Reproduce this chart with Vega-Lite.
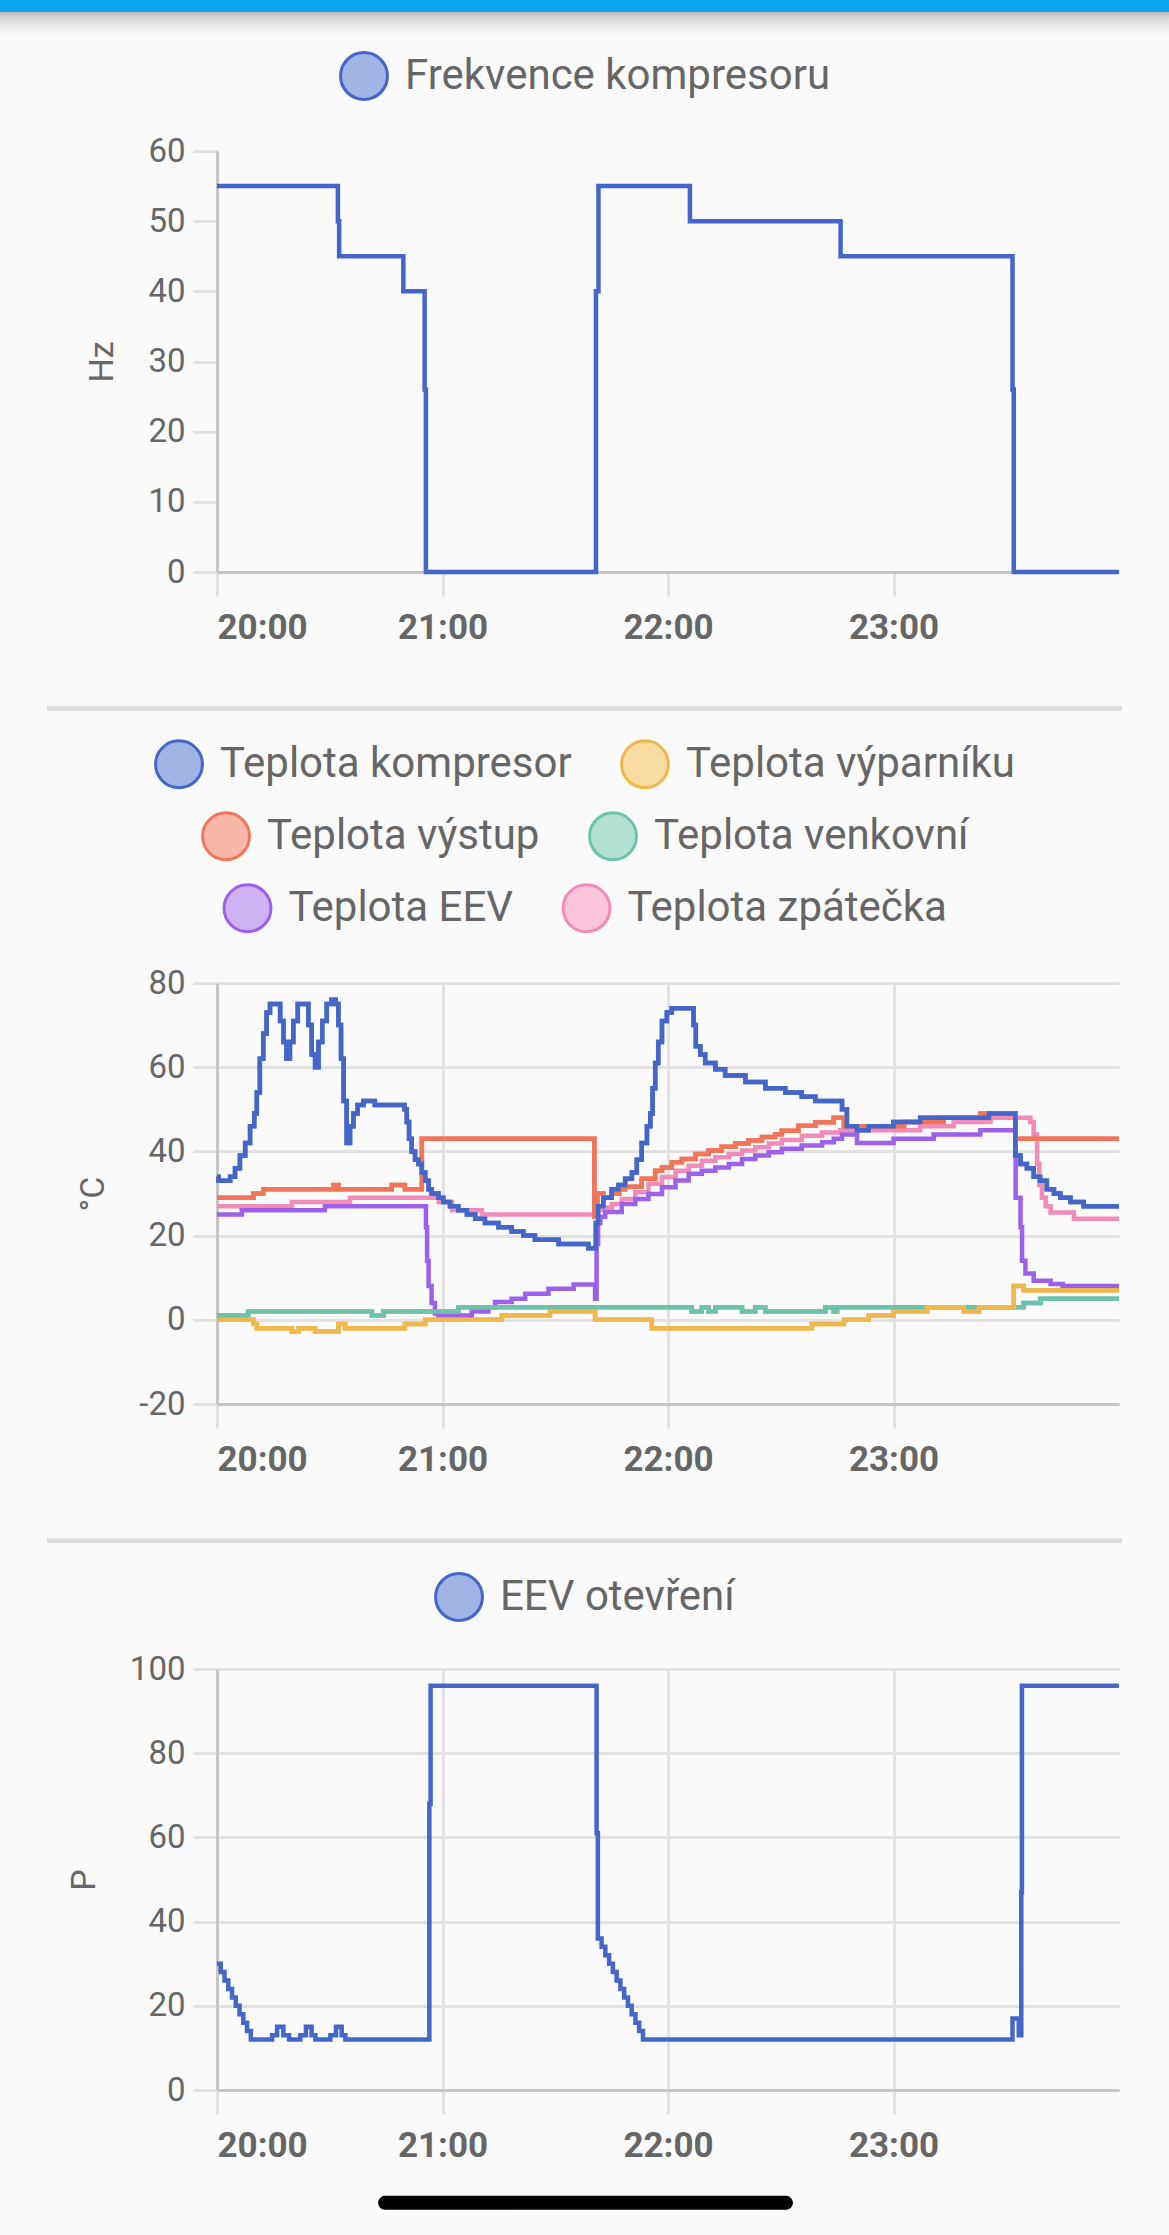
{
  "$schema": "https://vega.github.io/schema/vega-lite/v6.json",
  "background": "#fafafa",
  "padding": {"left": 0, "top": 0, "right": 0, "bottom": 25},
  "spacing": 28,
  "resolve": {"scale": {"color": "independent"}},
  "datasets": {
    "hz": [
      {"t":"2024-01-01T20:00:00","v":55},{"t":"2024-01-01T20:32:10","v":50},{"t":"2024-01-01T20:32:30","v":45},{"t":"2024-01-01T20:49:35","v":40},{"t":"2024-01-01T20:55:15","v":26},{"t":"2024-01-01T20:55:35","v":0},
      {"t":"2024-01-01T21:40:50","v":40},{"t":"2024-01-01T21:41:30","v":55},{"t":"2024-01-01T22:05:50","v":50},{"t":"2024-01-01T22:45:55","v":45},{"t":"2024-01-01T23:31:40","v":26},{"t":"2024-01-01T23:32:00","v":0},{"t":"2024-01-01T23:59:59","v":0}
    ],
    "eev": [
      {"t":"2024-01-01T20:00:00","v":30},{"t":"2024-01-01T20:01:00","v":28},{"t":"2024-01-01T20:02:00","v":26},{"t":"2024-01-01T20:03:00","v":24},{"t":"2024-01-01T20:04:00","v":22},{"t":"2024-01-01T20:05:00","v":20},{"t":"2024-01-01T20:06:00","v":18},{"t":"2024-01-01T20:07:00","v":16},{"t":"2024-01-01T20:08:00","v":14},{"t":"2024-01-01T20:09:00","v":12},
      {"t":"2024-01-01T20:14:40","v":13},{"t":"2024-01-01T20:16:00","v":15},{"t":"2024-01-01T20:17:40","v":13},{"t":"2024-01-01T20:19:10","v":12},
      {"t":"2024-01-01T20:22:10","v":13},{"t":"2024-01-01T20:23:40","v":15},{"t":"2024-01-01T20:25:10","v":13},{"t":"2024-01-01T20:26:10","v":12},
      {"t":"2024-01-01T20:30:10","v":13},{"t":"2024-01-01T20:31:40","v":15},{"t":"2024-01-01T20:33:10","v":13},{"t":"2024-01-01T20:34:10","v":12},
      {"t":"2024-01-01T20:56:30","v":68},{"t":"2024-01-01T20:56:50","v":96},
      {"t":"2024-01-01T21:41:00","v":61},{"t":"2024-01-01T21:41:20","v":36},{"t":"2024-01-01T21:42:20","v":34},{"t":"2024-01-01T21:43:20","v":32},{"t":"2024-01-01T21:44:20","v":30},{"t":"2024-01-01T21:45:20","v":28},{"t":"2024-01-01T21:46:20","v":26},{"t":"2024-01-01T21:47:20","v":24},{"t":"2024-01-01T21:48:20","v":22},{"t":"2024-01-01T21:49:20","v":20},{"t":"2024-01-01T21:50:20","v":18},{"t":"2024-01-01T21:51:20","v":16},{"t":"2024-01-01T21:52:20","v":14},{"t":"2024-01-01T21:53:20","v":12},
      {"t":"2024-01-01T23:31:40","v":17},{"t":"2024-01-01T23:33:20","v":13},{"t":"2024-01-01T23:34:00","v":47},{"t":"2024-01-01T23:34:10","v":96},{"t":"2024-01-01T23:59:59","v":96}
    ],
    "k": [
      {"t":"2024-01-01T20:00:00","v":34},{"t":"2024-01-01T20:00:24","v":33},{"t":"2024-01-01T20:03:30","v":34},{"t":"2024-01-01T20:04:48","v":36},{"t":"2024-01-01T20:06:06","v":39},{"t":"2024-01-01T20:07:30","v":42},{"t":"2024-01-01T20:08:48","v":46},{"t":"2024-01-01T20:09:54","v":49},{"t":"2024-01-01T20:10:36","v":54},{"t":"2024-01-01T20:11:24","v":62},{"t":"2024-01-01T20:12:18","v":68},{"t":"2024-01-01T20:13:12","v":73},{"t":"2024-01-01T20:14:06","v":75},
      {"t":"2024-01-01T20:16:48","v":71},{"t":"2024-01-01T20:17:42","v":66},{"t":"2024-01-01T20:18:30","v":62},{"t":"2024-01-01T20:19:24","v":66},{"t":"2024-01-01T20:20:18","v":71},{"t":"2024-01-01T20:21:30","v":75},
      {"t":"2024-01-01T20:24:18","v":70},{"t":"2024-01-01T20:25:12","v":63},{"t":"2024-01-01T20:26:06","v":60},{"t":"2024-01-01T20:27:00","v":66},{"t":"2024-01-01T20:28:00","v":71},{"t":"2024-01-01T20:29:12","v":75},{"t":"2024-01-01T20:30:30","v":76},{"t":"2024-01-01T20:31:36","v":75},
      {"t":"2024-01-01T20:32:18","v":70},{"t":"2024-01-01T20:33:00","v":62},{"t":"2024-01-01T20:33:42","v":52},{"t":"2024-01-01T20:34:30","v":42},{"t":"2024-01-01T20:35:24","v":46},{"t":"2024-01-01T20:36:18","v":49},{"t":"2024-01-01T20:37:24","v":51},{"t":"2024-01-01T20:39:00","v":52},{"t":"2024-01-01T20:42:00","v":51},
      {"t":"2024-01-01T20:49:54","v":50},{"t":"2024-01-01T20:50:30","v":47},{"t":"2024-01-01T20:51:06","v":43},{"t":"2024-01-01T20:51:48","v":40},{"t":"2024-01-01T20:52:42","v":38},{"t":"2024-01-01T20:53:36","v":37},{"t":"2024-01-01T20:54:30","v":35},{"t":"2024-01-01T20:55:24","v":33},{"t":"2024-01-01T20:56:18","v":31},{"t":"2024-01-01T20:57:06","v":30},{"t":"2024-01-01T20:58:54","v":29},
      {"t":"2024-01-01T21:00:12","v":28},{"t":"2024-01-01T21:02:00","v":27},{"t":"2024-01-01T21:04:12","v":26},{"t":"2024-01-01T21:06:30","v":25},{"t":"2024-01-01T21:08:42","v":24},{"t":"2024-01-01T21:11:18","v":23},{"t":"2024-01-01T21:14:54","v":22},{"t":"2024-01-01T21:18:24","v":21},{"t":"2024-01-01T21:21:30","v":20},{"t":"2024-01-01T21:24:36","v":19},{"t":"2024-01-01T21:30:54","v":18},{"t":"2024-01-01T21:38:48","v":17},
      {"t":"2024-01-01T21:40:48","v":23},{"t":"2024-01-01T21:41:24","v":27},{"t":"2024-01-01T21:42:48","v":29},{"t":"2024-01-01T21:45:00","v":31},{"t":"2024-01-01T21:46:48","v":32},{"t":"2024-01-01T21:48:36","v":33.5},{"t":"2024-01-01T21:50:24","v":35},{"t":"2024-01-01T21:51:42","v":38},{"t":"2024-01-01T21:53:00","v":42},{"t":"2024-01-01T21:54:24","v":46},{"t":"2024-01-01T21:55:18","v":49},{"t":"2024-01-01T21:55:54","v":55},{"t":"2024-01-01T21:56:36","v":61},{"t":"2024-01-01T21:57:24","v":66},{"t":"2024-01-01T21:58:24","v":71},{"t":"2024-01-01T21:59:42","v":73},{"t":"2024-01-01T22:01:00","v":74},
      {"t":"2024-01-01T22:06:48","v":70},{"t":"2024-01-01T22:07:24","v":65},{"t":"2024-01-01T22:08:36","v":63},{"t":"2024-01-01T22:09:54","v":61},{"t":"2024-01-01T22:12:36","v":59.5},{"t":"2024-01-01T22:15:12","v":58},{"t":"2024-01-01T22:20:36","v":56.5},{"t":"2024-01-01T22:25:54","v":55},{"t":"2024-01-01T22:31:12","v":54},{"t":"2024-01-01T22:35:36","v":53},{"t":"2024-01-01T22:39:12","v":52},
      {"t":"2024-01-01T22:46:18","v":50},{"t":"2024-01-01T22:47:36","v":46},{"t":"2024-01-01T22:50:18","v":45},{"t":"2024-01-01T22:53:24","v":46},{"t":"2024-01-01T23:00:00","v":47},{"t":"2024-01-01T23:07:06","v":48},{"t":"2024-01-01T23:25:24","v":49},
      {"t":"2024-01-01T23:32:24","v":39},{"t":"2024-01-01T23:33:48","v":37},{"t":"2024-01-01T23:35:30","v":36},{"t":"2024-01-01T23:37:18","v":34},{"t":"2024-01-01T23:39:00","v":33},{"t":"2024-01-01T23:40:48","v":31},{"t":"2024-01-01T23:42:42","v":30},{"t":"2024-01-01T23:44:24","v":29},{"t":"2024-01-01T23:47:06","v":28},{"t":"2024-01-01T23:50:36","v":27},{"t":"2024-01-01T23:59:59","v":27}
    ],
    "vyp": [
      {"t":"2024-01-01T20:00:00","v":0},{"t":"2024-01-01T20:09:42","v":-1},{"t":"2024-01-01T20:10:36","v":-2},{"t":"2024-01-01T20:19:54","v":-2.8},{"t":"2024-01-01T20:21:42","v":-2},{"t":"2024-01-01T20:26:06","v":-2.8},{"t":"2024-01-01T20:32:18","v":-1},{"t":"2024-01-01T20:34:06","v":-2},{"t":"2024-01-01T20:50:00","v":-1},{"t":"2024-01-01T20:55:24","v":0},
      {"t":"2024-01-01T21:15:48","v":1},{"t":"2024-01-01T21:28:36","v":2},{"t":"2024-01-01T21:40:36","v":0},{"t":"2024-01-01T21:55:42","v":-2},{"t":"2024-01-01T22:38:18","v":-1},{"t":"2024-01-01T22:46:48","v":0},{"t":"2024-01-01T22:53:24","v":1},{"t":"2024-01-01T23:00:00","v":2},{"t":"2024-01-01T23:08:54","v":3},{"t":"2024-01-01T23:18:42","v":2},{"t":"2024-01-01T23:22:42","v":3},{"t":"2024-01-01T23:32:00","v":8},{"t":"2024-01-01T23:34:36","v":7},{"t":"2024-01-01T23:59:59","v":7}
    ],
    "vys": [
      {"t":"2024-01-01T20:00:00","v":29},{"t":"2024-01-01T20:09:42","v":30},{"t":"2024-01-01T20:12:18","v":31},{"t":"2024-01-01T20:31:00","v":32},{"t":"2024-01-01T20:32:18","v":31},{"t":"2024-01-01T20:46:30","v":32},{"t":"2024-01-01T20:50:00","v":31},{"t":"2024-01-01T20:54:30","v":43},
      {"t":"2024-01-01T21:40:24","v":24.5},{"t":"2024-01-01T21:41:12","v":30},{"t":"2024-01-01T21:42:48","v":29},{"t":"2024-01-01T21:45:00","v":30},{"t":"2024-01-01T21:47:00","v":31},{"t":"2024-01-01T21:48:36","v":31.6},{"t":"2024-01-01T21:53:00","v":33.5},{"t":"2024-01-01T21:56:36","v":35.4},{"t":"2024-01-01T21:58:24","v":36.2},{"t":"2024-01-01T22:01:00","v":37.4},{"t":"2024-01-01T22:03:42","v":38.2},{"t":"2024-01-01T22:07:18","v":39.4},{"t":"2024-01-01T22:10:48","v":40.2},{"t":"2024-01-01T22:14:18","v":41.1},{"t":"2024-01-01T22:17:54","v":41.9},{"t":"2024-01-01T22:21:24","v":42.6},{"t":"2024-01-01T22:25:00","v":43.4},{"t":"2024-01-01T22:28:30","v":44.1},{"t":"2024-01-01T22:30:18","v":44.9},{"t":"2024-01-01T22:34:42","v":46.1},{"t":"2024-01-01T22:39:12","v":46.9},{"t":"2024-01-01T22:44:06","v":48},{"t":"2024-01-01T22:46:48","v":46},
      {"t":"2024-01-01T23:02:48","v":47},{"t":"2024-01-01T23:13:18","v":48},{"t":"2024-01-01T23:23:06","v":49},{"t":"2024-01-01T23:32:30","v":43},{"t":"2024-01-01T23:59:59","v":43}
    ],
    "ven": [
      {"t":"2024-01-01T20:00:00","v":1},{"t":"2024-01-01T20:08:18","v":2},{"t":"2024-01-01T20:41:12","v":1},{"t":"2024-01-01T20:44:18","v":2},{"t":"2024-01-01T21:04:12","v":3},{"t":"2024-01-01T22:06:18","v":2},{"t":"2024-01-01T22:09:00","v":3},{"t":"2024-01-01T22:10:48","v":2},{"t":"2024-01-01T22:12:36","v":3},{"t":"2024-01-01T22:19:42","v":2},{"t":"2024-01-01T22:23:12","v":3},{"t":"2024-01-01T22:25:54","v":2},{"t":"2024-01-01T22:41:54","v":3},{"t":"2024-01-01T22:44:06","v":2},{"t":"2024-01-01T22:45:00","v":3},{"t":"2024-01-01T23:34:36","v":4},{"t":"2024-01-01T23:39:06","v":5},{"t":"2024-01-01T23:59:59","v":5}
    ],
    "eevt": [
      {"t":"2024-01-01T20:00:00","v":25},{"t":"2024-01-01T20:06:36","v":26},{"t":"2024-01-01T20:28:42","v":27},{"t":"2024-01-01T20:55:36","v":22},{"t":"2024-01-01T20:55:54","v":14},{"t":"2024-01-01T20:56:18","v":8},{"t":"2024-01-01T20:57:06","v":4},{"t":"2024-01-01T20:58:00","v":1.5},{"t":"2024-01-01T20:58:54","v":1},
      {"t":"2024-01-01T21:07:48","v":2},{"t":"2024-01-01T21:12:12","v":3},{"t":"2024-01-01T21:14:00","v":4.2},{"t":"2024-01-01T21:18:24","v":5},{"t":"2024-01-01T21:22:00","v":6.2},{"t":"2024-01-01T21:28:12","v":7.4},{"t":"2024-01-01T21:34:54","v":8.4},{"t":"2024-01-01T21:40:36","v":5},
      {"t":"2024-01-01T21:41:00","v":18},{"t":"2024-01-01T21:41:24","v":23},{"t":"2024-01-01T21:42:00","v":24.5},{"t":"2024-01-01T21:43:18","v":25.6},{"t":"2024-01-01T21:47:42","v":27.5},{"t":"2024-01-01T21:51:18","v":28.7},{"t":"2024-01-01T21:54:48","v":29.9},{"t":"2024-01-01T21:58:24","v":31.5},{"t":"2024-01-01T22:02:00","v":33.1},{"t":"2024-01-01T22:05:30","v":34.7},{"t":"2024-01-01T22:09:00","v":35.4},{"t":"2024-01-01T22:12:36","v":36.2},{"t":"2024-01-01T22:16:12","v":37},{"t":"2024-01-01T22:19:42","v":38.2},{"t":"2024-01-01T22:23:12","v":39},{"t":"2024-01-01T22:26:48","v":39.8},{"t":"2024-01-01T22:30:18","v":40.6},{"t":"2024-01-01T22:35:36","v":41.4},{"t":"2024-01-01T22:41:00","v":42.2},{"t":"2024-01-01T22:44:06","v":43},{"t":"2024-01-01T22:46:18","v":44},{"t":"2024-01-01T22:50:18","v":42},
      {"t":"2024-01-01T23:00:00","v":43},{"t":"2024-01-01T23:10:42","v":44},{"t":"2024-01-01T23:23:06","v":45},{"t":"2024-01-01T23:32:30","v":29},{"t":"2024-01-01T23:33:48","v":22},{"t":"2024-01-01T23:34:12","v":14},{"t":"2024-01-01T23:35:06","v":11},{"t":"2024-01-01T23:37:18","v":9.3},{"t":"2024-01-01T23:41:48","v":8.5},{"t":"2024-01-01T23:45:00","v":8},{"t":"2024-01-01T23:59:59","v":8}
    ],
    "zp": [
      {"t":"2024-01-01T20:00:00","v":27},{"t":"2024-01-01T20:19:54","v":28},{"t":"2024-01-01T20:35:24","v":29},{"t":"2024-01-01T20:59:00","v":28},{"t":"2024-01-01T21:02:30","v":26},{"t":"2024-01-01T21:10:30","v":25},
      {"t":"2024-01-01T21:41:00","v":26},{"t":"2024-01-01T21:43:18","v":26.7},{"t":"2024-01-01T21:45:06","v":27.5},{"t":"2024-01-01T21:47:42","v":28.7},{"t":"2024-01-01T21:51:18","v":30.3},{"t":"2024-01-01T21:54:48","v":32.3},{"t":"2024-01-01T21:58:24","v":33.9},{"t":"2024-01-01T22:02:00","v":35.4},{"t":"2024-01-01T22:05:30","v":36.6},{"t":"2024-01-01T22:09:00","v":37.8},{"t":"2024-01-01T22:12:36","v":38.6},{"t":"2024-01-01T22:16:12","v":39.4},{"t":"2024-01-01T22:19:42","v":40.2},{"t":"2024-01-01T22:23:12","v":41},{"t":"2024-01-01T22:26:48","v":41.9},{"t":"2024-01-01T22:30:18","v":42.7},{"t":"2024-01-01T22:35:36","v":43.7},{"t":"2024-01-01T22:41:00","v":44.5},{"t":"2024-01-01T22:45:48","v":45},
      {"t":"2024-01-01T23:07:06","v":46},{"t":"2024-01-01T23:16:00","v":47},{"t":"2024-01-01T23:25:48","v":48},{"t":"2024-01-01T23:36:24","v":47},{"t":"2024-01-01T23:37:18","v":44},{"t":"2024-01-01T23:38:12","v":37},{"t":"2024-01-01T23:38:48","v":32},{"t":"2024-01-01T23:39:30","v":29},{"t":"2024-01-01T23:40:30","v":27},{"t":"2024-01-01T23:41:48","v":25.5},{"t":"2024-01-01T23:48:00","v":24},{"t":"2024-01-01T23:59:59","v":24}
    ]
  },
  "vconcat": [
    {
      "width": 902, "height": 421,
      "layer": [
        {"data": {"values": [{}]}, "mark": {"type": "rect", "fill": {"gradient": "linear", "x1": 0, "y1": 0, "x2": 0, "y2": 1, "stops": [{"offset": 0, "color": "#bdbdbd"}, {"offset": 0.35, "color": "#dcdcdc"}, {"offset": 1, "color": "#fafafa"}]}, "strokeWidth": 0},
         "encoding": {"x": {"datum": {"year":2024,"month":1,"date":1,"hours":19,"minutes":2,"seconds":16}, "type": "temporal"}, "x2": {"datum": {"year":2024,"month":1,"date":2,"hours":0,"minutes":13,"seconds":18}}, "y": {"datum": 79.81, "type": "quantitative"}, "y2": {"datum": 76.675}}},
        {"data": {"values": [{}]}, "mark": {"type": "rect", "color": "#0aa6ef", "strokeWidth": 0},
         "encoding": {"x": {"datum": {"year":2024,"month":1,"date":1,"hours":19,"minutes":2,"seconds":16}, "type": "temporal"}, "x2": {"datum": {"year":2024,"month":1,"date":2,"hours":0,"minutes":13,"seconds":18}}, "y": {"datum": 81.52, "type": "quantitative"}, "y2": {"datum": 79.81}}},
        {"data": {"name": "hz"}, "mark": {"type": "line", "interpolate": "step-after", "strokeWidth": 4.5},
         "encoding": {
           "x": {"field": "t", "type": "temporal", "scale": {"domain": [{"year":2024,"month":1,"date":1,"hours":20},{"year":2024,"month":1,"date":2,"hours":0}]}, "axis": {"values": [{"year":2024,"month":1,"date":1,"hours":20},{"year":2024,"month":1,"date":1,"hours":21},{"year":2024,"month":1,"date":1,"hours":22},{"year":2024,"month":1,"date":1,"hours":23}], "format": "%H:%M", "title": null}},
           "y": {"field": "v", "type": "quantitative", "scale": {"domain": [0, 60]}, "axis": {"values": [0,10,20,30,40,50,60], "title": "Hz"}},
           "color": {"datum": "Frekvence kompresoru", "scale": {"range": ["#4466c8"]}, "legend": {"title": " ", "offset": 45, "symbolType": "circle", "encode": {"symbols": {"update": {"fill": {"value": "#a0b3e5"}, "strokeWidth": {"value": 3}}}}}}}},
        {"data": {"values": [{}]}, "mark": {"type": "rule", "color": "#dcdcdc", "strokeWidth": 4.5},
         "encoding": {"x": {"datum": {"year":2024,"month":1,"date":1,"hours":19,"minutes":14,"seconds":46}, "type": "temporal"}, "x2": {"datum": {"year":2024,"month":1,"date":2,"hours":0,"minutes":0,"seconds":48}}, "y": {"datum": -19.45, "type": "quantitative"}}}
      ]
    },
    {
      "width": 902, "height": 421,
      "layer": [
        {
          "encoding": {
            "x": {"field": "t", "type": "temporal", "scale": {"domain": [{"year":2024,"month":1,"date":1,"hours":20},{"year":2024,"month":1,"date":2,"hours":0}]}, "axis": {"values": [{"year":2024,"month":1,"date":1,"hours":20},{"year":2024,"month":1,"date":1,"hours":21},{"year":2024,"month":1,"date":1,"hours":22},{"year":2024,"month":1,"date":1,"hours":23}], "format": "%H:%M", "title": null}},
            "y": {"field": "v", "type": "quantitative", "scale": {"domain": [-20, 80]}, "axis": {"values": [-20,0,20,40,60,80], "labelExpr": "'' + datum.value", "title": "°C"}}
          },
          "layer": [
            {"layer": [
              {"data": {"name": "vyp"}, "mark": {"type": "line", "interpolate": "step-after", "strokeWidth": 4.5},
               "encoding": {"color": {"datum": "Teplota výparníku", "scale": {"domain": ["Teplota kompresor", "Teplota výparníku"], "range": ["#4466c8", "#f0b84c"]}, "legend": {"title": " ", "offset": 45, "symbolType": "circle", "encode": {"symbols": {"update": {"fill": {"signal": "datum.value == 'Teplota výparníku' ? '#f7dba1' : '#a0b3e5'"}, "strokeWidth": {"value": 3}}}}}}}},
              {"data": {"name": "k"}, "mark": {"type": "line", "interpolate": "step-after", "strokeWidth": 4.5},
               "encoding": {"color": {"datum": "Teplota kompresor", "scale": {"domain": ["Teplota kompresor", "Teplota výparníku"], "range": ["#4466c8", "#f0b84c"]}, "legend": {"title": " ", "offset": 45, "symbolType": "circle", "encode": {"symbols": {"update": {"fill": {"signal": "datum.value == 'Teplota výparníku' ? '#f7dba1' : '#a0b3e5'"}, "strokeWidth": {"value": 3}}}}}}}}
            ]},
            {"layer": [
              {"data": {"name": "ven"}, "mark": {"type": "line", "interpolate": "step-after", "strokeWidth": 4.5},
               "encoding": {"color": {"datum": "Teplota venkovní", "scale": {"domain": ["Teplota výstup", "Teplota venkovní"], "range": ["#f07559", "#6cc3aa"]}, "legend": {"title": " ", "offset": 45, "symbolType": "circle", "encode": {"symbols": {"update": {"fill": {"signal": "datum.value == 'Teplota venkovní' ? '#b4e0d3' : '#f9b7a7'"}, "strokeWidth": {"value": 3}}}}}}}},
              {"data": {"name": "vys"}, "mark": {"type": "line", "interpolate": "step-after", "strokeWidth": 4.5},
               "encoding": {"color": {"datum": "Teplota výstup", "scale": {"domain": ["Teplota výstup", "Teplota venkovní"], "range": ["#f07559", "#6cc3aa"]}, "legend": {"title": " ", "offset": 45, "symbolType": "circle", "encode": {"symbols": {"update": {"fill": {"signal": "datum.value == 'Teplota venkovní' ? '#b4e0d3' : '#f9b7a7'"}, "strokeWidth": {"value": 3}}}}}}}}
            ]},
            {"layer": [
              {"data": {"name": "zp"}, "mark": {"type": "line", "interpolate": "step-after", "strokeWidth": 4.5},
               "encoding": {"color": {"datum": "Teplota zpátečka", "scale": {"domain": ["Teplota EEV", "Teplota zpátečka"], "range": ["#9d60e8", "#f38bb8"]}, "legend": {"title": " ", "offset": 45, "symbolType": "circle", "encode": {"symbols": {"update": {"fill": {"signal": "datum.value == 'Teplota zpátečka' ? '#fbc4db' : '#cfb1f4'"}, "strokeWidth": {"value": 3}}}}}}}},
              {"data": {"name": "eevt"}, "mark": {"type": "line", "interpolate": "step-after", "strokeWidth": 4.5},
               "encoding": {"color": {"datum": "Teplota EEV", "scale": {"domain": ["Teplota EEV", "Teplota zpátečka"], "range": ["#9d60e8", "#f38bb8"]}, "legend": {"title": " ", "offset": 45, "symbolType": "circle", "encode": {"symbols": {"update": {"fill": {"signal": "datum.value == 'Teplota zpátečka' ? '#fbc4db' : '#cfb1f4'"}, "strokeWidth": {"value": 3}}}}}}}}
            ]},
            {"data": {"name": "ven"}, "mark": {"type": "line", "interpolate": "step-after", "strokeWidth": 4.5, "color": "#6cc3aa"}, "encoding": {}},
            {"data": {"name": "vys"}, "mark": {"type": "line", "interpolate": "step-after", "strokeWidth": 4.5, "color": "#f07559"}, "encoding": {}},
            {"data": {"name": "vyp"}, "mark": {"type": "line", "interpolate": "step-after", "strokeWidth": 4.5, "color": "#f0b84c"}, "encoding": {}},
            {"data": {"name": "k"}, "mark": {"type": "line", "interpolate": "step-after", "strokeWidth": 4.5, "color": "#4466c8"}, "encoding": {}}
          ],
          "resolve": {"scale": {"color": "independent"}}
        },
        {"data": {"values": [{}]}, "mark": {"type": "rule", "color": "#dcdcdc", "strokeWidth": 4.5},
         "encoding": {"x": {"datum": {"year":2024,"month":1,"date":1,"hours":19,"minutes":14,"seconds":46}, "type": "temporal"}, "x2": {"datum": {"year":2024,"month":1,"date":2,"hours":0,"minutes":0,"seconds":48}}, "y": {"datum": -52.5, "type": "quantitative"}}}
      ]
    },
    {
      "width": 902, "height": 421,
      "layer": [
        {"data": {"name": "eev"}, "mark": {"type": "line", "interpolate": "step-after", "strokeWidth": 4.5},
         "encoding": {
           "x": {"field": "t", "type": "temporal", "scale": {"domain": [{"year":2024,"month":1,"date":1,"hours":20},{"year":2024,"month":1,"date":2,"hours":0}]}, "axis": {"values": [{"year":2024,"month":1,"date":1,"hours":20},{"year":2024,"month":1,"date":1,"hours":21},{"year":2024,"month":1,"date":1,"hours":22},{"year":2024,"month":1,"date":1,"hours":23}], "format": "%H:%M", "title": null}},
           "y": {"field": "v", "type": "quantitative", "scale": {"domain": [0, 100]}, "axis": {"values": [0,20,40,60,80,100], "title": "P"}},
           "color": {"datum": "EEV otevření", "scale": {"range": ["#4466c8"]}, "legend": {"title": " ", "offset": 42, "symbolType": "circle", "encode": {"symbols": {"update": {"fill": {"value": "#a0b3e5"}, "strokeWidth": {"value": 3}}}}}}}},
        {"data": {"values": [{}]}, "mark": {"type": "rule", "color": "#000000", "strokeWidth": 14, "strokeCap": "round"},
         "encoding": {"x": {"datum": {"year":2024,"month":1,"date":1,"hours":20,"minutes":44,"seconds":42}, "type": "temporal"}, "x2": {"datum": {"year":2024,"month":1,"date":1,"hours":22,"minutes":31,"seconds":24}}, "y": {"datum": -26.8, "type": "quantitative"}}}
      ]
    }
  ],
  "config": {
    "font": "Roboto",
    "view": {"stroke": null},
    "axis": {"labelColor": "#666666", "titleColor": "#666666", "titleFontWeight": "normal", "gridColor": "#e2e2e2", "gridWidth": 3, "tickColor": "#e2e2e2", "tickWidth": 3, "tickSize": 24, "domainColor": "#c6c6c6", "domainWidth": 3},
    "axisX": {"labelFontSize": 35, "labelFontWeight": "bold", "labelPadding": 14.5},
    "axisY": {"labelFontSize": 33, "labelPadding": 8, "titleFontSize": 34, "titlePadding": 28},
    "legend": {"orient": "top", "direction": "horizontal", "labelFontSize": 42, "labelColor": "#666666", "labelLimit": 1000, "symbolSize": 2200, "symbolStrokeWidth": 3, "labelOffset": 16, "columnPadding": 43, "padding": 0, "offset": 41,
      "titleOrient": "right", "titleFontSize": 1, "titlePadding": 167,
      "layout": {"top": {"anchor": "middle", "direction": "vertical", "center": true, "margin": 17, "bounds": "flush"}}}
  }
}
